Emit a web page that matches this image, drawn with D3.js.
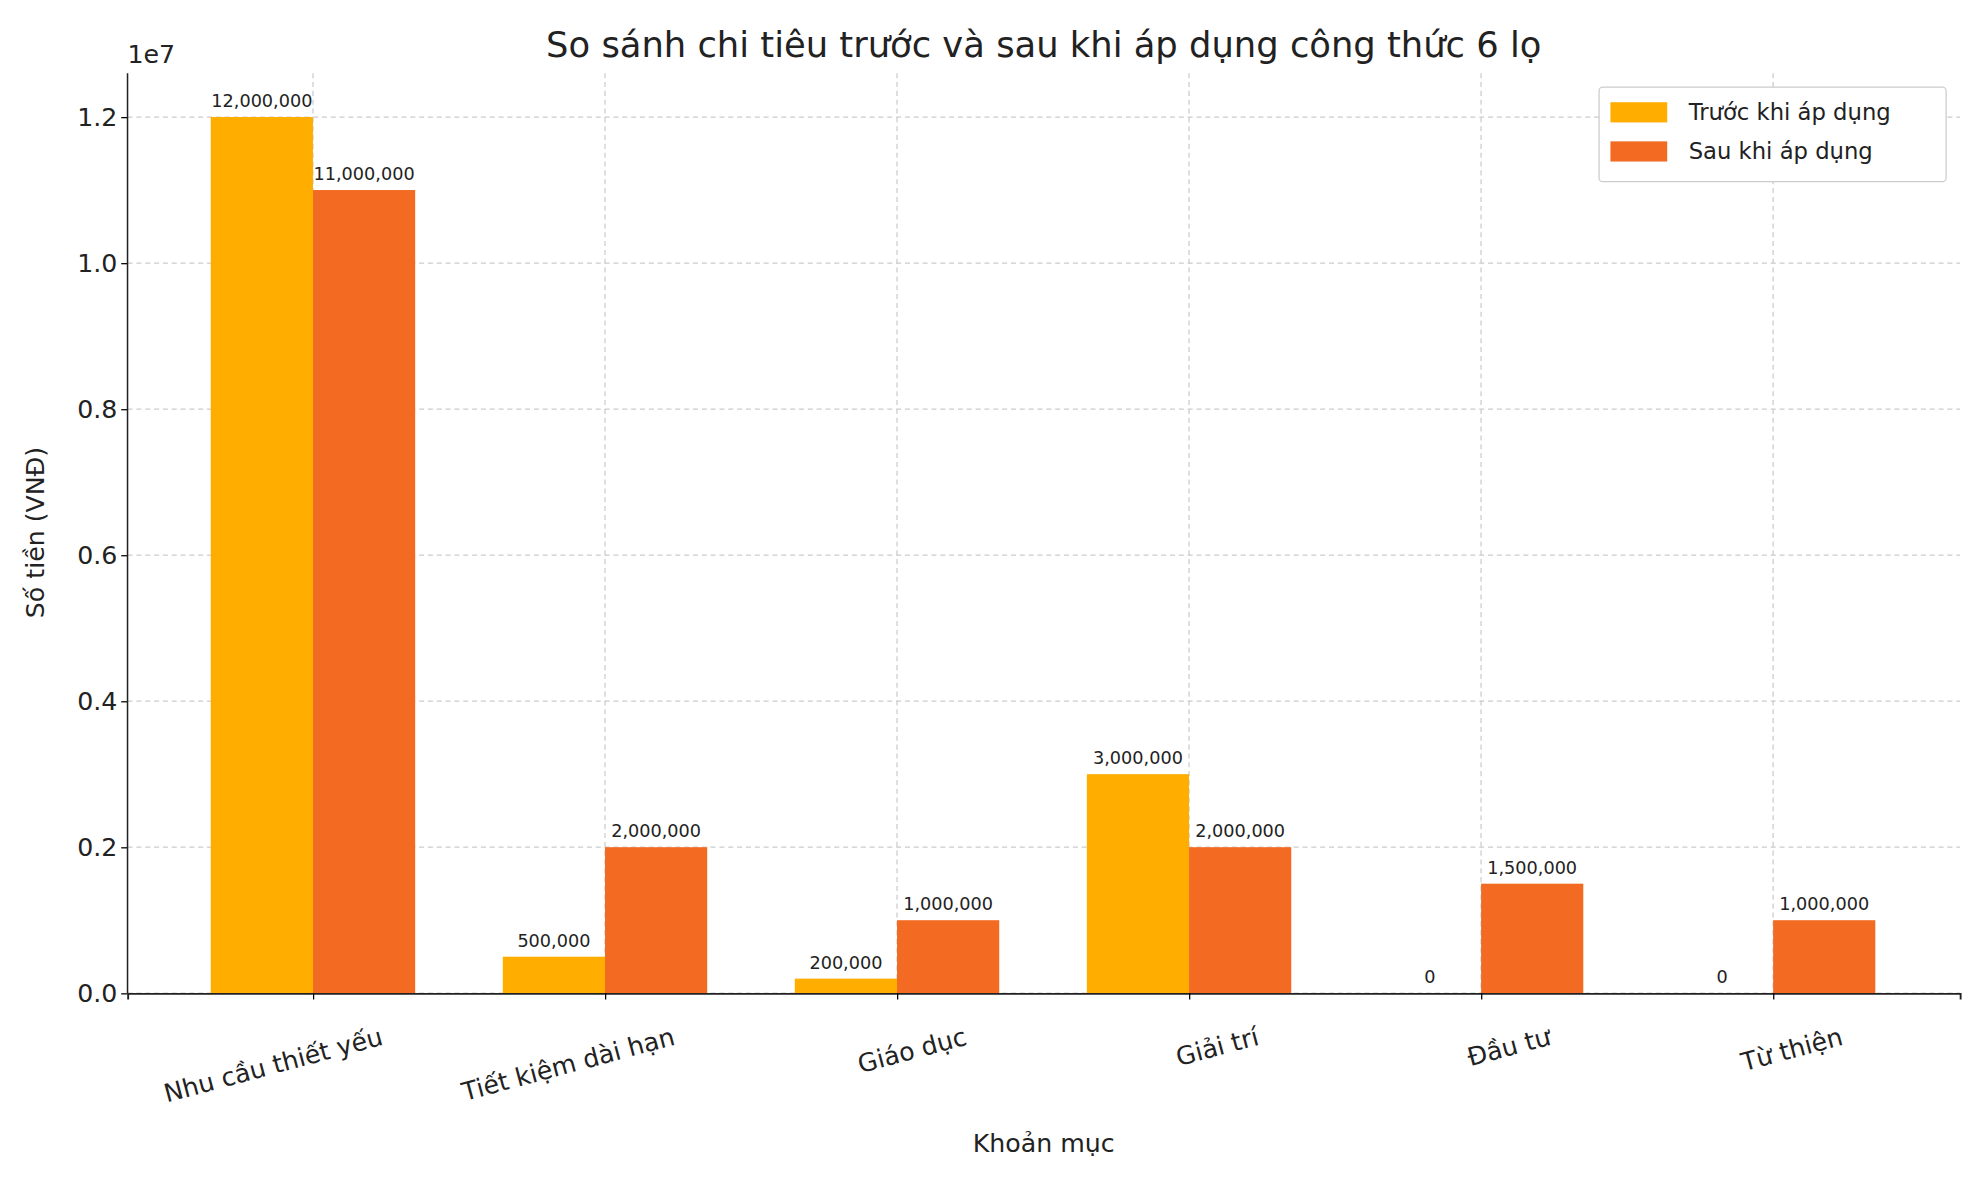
<!DOCTYPE html><html><head><meta charset="utf-8"><script src="https://cdn.jsdelivr.net/npm/d3@7"></script>
<style>body{margin:0;background:#fff}text{font-family:"DejaVu Sans",sans-serif;fill:#222}</style></head><body>
<svg id="c" width="1979" height="1180" viewBox="0 0 1568 935"></svg>
<script>
const categories=["Nhu cầu thiết yếu","Tiết kiệm dài hạn","Giáo dục","Giải trí","Đầu tư","Từ thiện"];
const before=[12000000,500000,200000,3000000,0,0];
const after=[11000000,2000000,1000000,2000000,1500000,1000000];
const yTicks=[0,2e6,4e6,6e6,8e6,10e6,12e6];
const seriesNames=["Trước khi áp dụng","Sau khi áp dụng"];
const colors=["#FFAE00","#F36B22"];
const svg=d3.select("#c");
const L=101,R=1553,T=58,B=787;
const x=d3.scaleLinear().domain([-0.635,5.64]).range([L,R]);
const y=d3.scaleLinear().domain([0,1.26e7]).range([B,T]);
const bw=0.35;
// grid
svg.append("g").selectAll("line").data(yTicks).join("line").attr("x1",L).attr("x2",R).attr("y1",d=>y(d)).attr("y2",d=>y(d)).attr("stroke","#ccc").attr("stroke-dasharray","4,3");
svg.append("g").selectAll("line").data(categories).join("line").attr("x1",(d,i)=>x(i)).attr("x2",(d,i)=>x(i)).attr("y1",T).attr("y2",B).attr("stroke","#ccc").attr("stroke-dasharray","4,3");
[before,after].forEach((arr,s)=>{
  const off=s===0?-bw:0;
  svg.append("g").selectAll("rect").data(arr).join("rect").attr("x",(d,i)=>x(i+off)).attr("width",x(bw)-x(0)).attr("y",d=>y(d)).attr("height",d=>B-y(d)).attr("fill",colors[s]);
  svg.append("g").selectAll("text").data(arr).join("text").attr("x",(d,i)=>x(i+off+bw/2)).attr("y",d=>y(d)-8).attr("text-anchor","middle").attr("font-size",14).text(d=>d3.format(",")(d));
});
const ya=svg.append("g").attr("transform",`translate(${L},0)`).call(d3.axisLeft(y).tickValues(yTicks).tickFormat(d=>(d/1e7).toFixed(1)).tickSize(5));
ya.selectAll("text").attr("font-size",20).attr("font-family","DejaVu Sans").attr("fill","#222");
ya.select(".domain").remove();
svg.append("line").attr("x1",L).attr("x2",L).attr("y1",T).attr("y2",B).attr("stroke","#222").attr("stroke-width",1.2);
const xa=svg.append("g").attr("transform",`translate(0,${B})`).call(d3.axisBottom(x).tickValues(d3.range(6)).tickFormat(i=>categories[i]).tickSize(5));
xa.select(".domain").attr("stroke","#222").attr("stroke-width",1.5);
xa.selectAll("text").attr("font-size",20).attr("font-family","DejaVu Sans").attr("fill","#222").attr("text-anchor","end").attr("transform","translate(52,26) rotate(-15)").attr("dy","0.35em");
svg.append("text").attr("x",101).attr("y",50).attr("font-size",20).text("1e7");
svg.append("text").attr("x",827).attr("y",45).attr("text-anchor","middle").attr("font-size",28).attr("fill","#333").text("So sánh chi tiêu trước và sau khi áp dụng công thức 6 lọ");
svg.append("text").attr("x",827).attr("y",913).attr("text-anchor","middle").attr("font-size",20).text("Khoản mục");
svg.append("text").attr("transform","translate(35,422) rotate(-90)").attr("text-anchor","middle").attr("font-size",20).text("Số tiền (VNĐ)");
const lg=svg.append("g").attr("transform","translate(1267,69)");
lg.append("rect").attr("width",275).attr("height",75).attr("rx",3).attr("fill","#fff").attr("stroke","#ccc");
seriesNames.forEach((n,i)=>{
  lg.append("rect").attr("x",9).attr("y",12+i*31).attr("width",45).attr("height",16).attr("fill",colors[i]);
  lg.append("text").attr("x",71).attr("y",26+i*31).attr("font-size",18).attr("fill","#333").text(n);
});
</script></body></html>
